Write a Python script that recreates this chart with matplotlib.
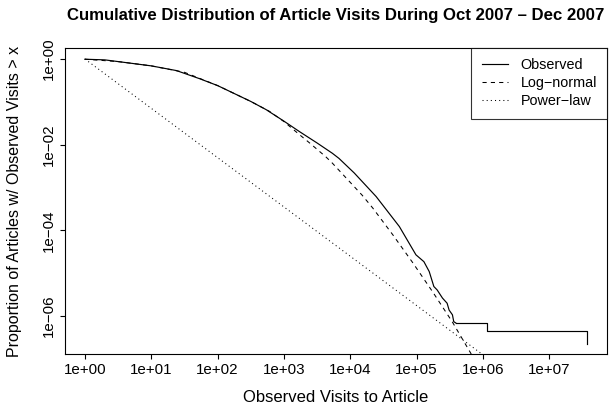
import numpy as np
import matplotlib
matplotlib.use("Agg")
import matplotlib.pyplot as plt

plt.rcParams['font.family'] = ['Liberation Sans', 'DejaVu Sans']

# observed CCDF (log10 values)
obs_logx = [0, 0.3, 0.5, 1.0, 1.38, 1.73, 2.0, 2.23, 2.5, 2.73, 3.0, 3.23, 3.5,
            3.73, 3.83, 4.06, 4.39, 4.74, 4.99, 5.11, 5.19, 5.26, 5.31, 5.39,
            5.46, 5.49, 5.54, 5.56, 5.59]
obs_logp = [-0.005, -0.02, -0.06, -0.16, -0.27, -0.46, -0.62, -0.79, -0.99, -1.18,
            -1.45, -1.69, -1.96, -2.20, -2.32, -2.66, -3.21, -3.91, -4.57, -4.73,
            -4.96, -5.31, -5.39, -5.58, -5.70, -5.86, -5.97, -6.13, -6.16]
# last few articles (step tail)
tail_logx = [5.59, 6.06, 7.57]
tail_logp = [-6.16, -6.34, -6.64]

# fitted log-normal
ln_logx = [0, 0.5, 1.0, 1.5, 2.0, 2.5, 2.78, 3.0, 3.23, 3.38, 3.63, 3.73, 3.88,
           4.18, 4.34, 4.64, 4.94, 5.24, 5.54, 5.81, 6.0]
ln_logp = [-0.005, -0.06, -0.16, -0.31, -0.62, -0.99, -1.22, -1.46, -1.76, -1.95,
           -2.28, -2.43, -2.68, -3.18, -3.48, -4.10, -4.75, -5.43, -6.14, -6.85, -7.4]

# fitted power-law
pl_logx = [0, 6.3]
pl_logp = [0, -7.25]

fig = plt.figure(figsize=(6.09, 4.09), dpi=100)
ax = fig.add_axes([65 / 609, 1 - 354 / 409, 542 / 609, 306 / 409])

p = lambda v: 10 ** np.array(v)
ax.plot(p(obs_logx), p(obs_logp), color='black', lw=0.85, label='Observed')
ax.plot(p(tail_logx), p(tail_logp), color='black', lw=0.85, drawstyle='steps-post')
ax.plot(p(ln_logx), p(ln_logp), color='black', lw=0.75, linestyle=(0, (4, 4)),
        label='Log\u2212normal')
ax.plot(p(pl_logx), p(pl_logp), color='black', lw=0.75, linestyle=(0, (1, 3)),
        label='Power\u2212law')

ax.set_xscale('log')
ax.set_yscale('log')
ax.set_xlim(10 ** -0.30, 10 ** 7.87)
ax.set_ylim(10 ** -6.885, 10 ** 0.257)
ax.minorticks_off()

fs_tick = 10.9
xt = [10.0 ** k for k in range(0, 8)]
ax.set_xticks(xt)
ax.set_xticklabels(['1e+%02d' % k for k in range(0, 8)])
yt = [10.0 ** k for k in [0, -2, -4, -6]]
ax.set_yticks(yt)
ax.set_yticklabels(['1e+00', '1e\u221202', '1e\u221204', '1e\u221206'],
                   rotation=90, va='center')
ax.tick_params(direction='out', length=3.8, width=0.8, labelsize=fs_tick, pad=3)
for s in ax.spines.values():
    s.set_linewidth(0.8)

ax.set_xlabel('Observed Visits to Article', fontsize=12.0, labelpad=9)
ax.set_ylabel('Proportion of Articles w/ Observed Visits > x', fontsize=11.5,
              labelpad=14)
ax.set_title('Cumulative Distribution of Article Visits During Oct 2007 \u2013 Dec 2007',
             fontsize=12.1, fontweight='bold', pad=20)

leg = ax.legend(loc='upper right', borderaxespad=0, fancybox=False, fontsize=10.4,
                handlelength=1.8, handletextpad=0.9, labelspacing=0.29,
                borderpad=0.7)
leg.get_frame().set_edgecolor('black')
leg.get_frame().set_linewidth(0.8)

fig.savefig('out.png', dpi=100)
